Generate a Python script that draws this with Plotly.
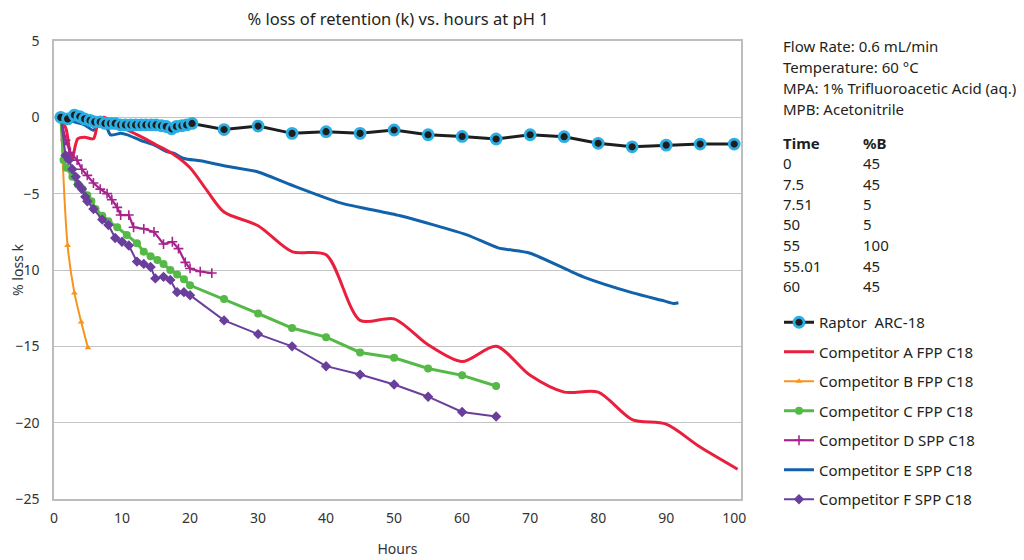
import plotly.graph_objects as go

# ---------------- data ----------------
raptor_x = [1, 2, 3, 3.8, 4.5, 5.3, 6, 6.8, 7.5, 8.3, 9, 9.8, 10.5, 11.3, 12, 12.8, 13.5, 14.3,
            15, 15.8, 16.5, 17.3, 18, 18.8, 19.5, 20.3, 25, 30, 35, 40, 45, 50, 55, 60, 65, 70,
            75, 80, 85, 90, 95, 100]
raptor_y = [0, -0.1, 0.15, 0.05, -0.1, -0.2, -0.3, -0.3, -0.4, -0.4, -0.4, -0.5, -0.5, -0.5,
            -0.5, -0.5, -0.5, -0.5, -0.5, -0.55, -0.6, -0.75, -0.6, -0.55, -0.5, -0.4, -0.8,
            -0.57, -1.05, -0.94, -1.05, -0.83, -1.14, -1.25, -1.42, -1.14, -1.27, -1.7, -1.93,
            -1.82, -1.75, -1.75]

compA_x = [1, 1.8, 2.6, 3.5, 4.5, 5.8, 6.4, 7.3, 8.8, 10.2, 12.5, 15, 17.5, 20, 22.5, 25, 30,
           35, 40, 45, 50, 55, 60, 65, 70, 75, 80, 85, 90, 95, 100.5]
compA_y = [0, -0.8, -2.8, -1.4, -1.3, -1.4, -0.5, 0, -0.4, -0.7, -1.2, -1.8, -2.4, -3.3, -4.8,
           -6.2, -7.1, -8.8, -9.0, -13.3, -13.2, -14.9, -16.0, -15.0, -16.9, -18.0, -18.0,
           -19.8, -20.1, -21.6, -23.05]

compB_x = [1, 2, 3, 4, 5]
compB_y = [0, -8.4, -11.5, -13.4, -15.1]

compC_x = [1, 1.4, 1.8, 2.7, 3.5, 4.2, 4.9, 5.5, 6.1, 7.1, 8, 9.3, 10.7, 12.2, 13.2, 14.2, 15.2,
           16.1, 17.1, 18.1, 19.1, 20, 25, 30, 35, 40, 45, 50, 55, 60, 65]
compC_y = [0, -2.8, -3.3, -3.9, -4.4, -4.7, -5.1, -5.5, -6.0, -6.45, -6.8, -7.2, -7.7, -8.25,
           -8.8, -9.1, -9.35, -9.6, -10.0, -10.3, -10.6, -11.0, -11.9, -12.85, -13.8, -14.4,
           -15.4, -15.75, -16.45, -16.9, -17.6]

compD_x = [1, 1.7, 2.4, 3.4, 4.1, 4.9, 5.8, 6.8, 7.8, 8.5, 9.3, 9.8, 11, 11.7, 13.2, 14.7,
           16.1, 17.4, 18.3, 19.3, 20, 21.5, 23.2]
compD_y = [0, -1.5, -2.3, -2.8, -3.4, -3.8, -4.3, -4.7, -5.0, -5.4, -5.9, -6.4, -6.4, -7.2,
           -7.3, -7.5, -8.3, -8.15, -8.6, -9.5, -9.9, -10.1, -10.2]

compE_x = [1, 2, 3, 4.5, 5.8, 6.8, 7.6, 8.3, 9.8, 10.8, 12.7, 14.7, 16.6, 17.6, 19.1, 21.5,
           25.4, 29.8, 34.7, 42.1, 50.9, 60.7, 65.3, 70, 77.8, 85.1, 89.5, 91.2, 91.8]
compE_y = [0, -0.1, -0.3, -0.5, -0.85, -0.25, -0.5, -1.15, -1.05, -1.15, -1.5, -1.8, -2.25,
           -2.35, -2.7, -2.85, -3.2, -3.55, -4.4, -5.6, -6.45, -7.7, -8.55, -8.9, -10.45,
           -11.5, -12.0, -12.2, -12.15]

compF_x = [1, 1.7, 2.2, 2.7, 3.2, 3.6, 4.1, 4.6, 4.9, 5.8, 7.1, 8, 9, 10, 11, 12.2, 13.2, 14.2,
           14.9, 16.1, 17.1, 18.1, 19.1, 20, 25, 30, 35, 40, 45, 50, 55, 60, 65]
compF_y = [0, -2.5, -2.8, -3.4, -3.9, -4.4, -4.7, -5.2, -5.5, -6.0, -6.7, -7.05, -7.9, -8.15,
           -8.4, -9.45, -9.6, -9.8, -10.55, -10.45, -10.65, -11.45, -11.45, -11.65, -13.3,
           -14.2, -15.0, -16.3, -16.85, -17.5, -18.3, -19.3, -19.6]

series_names = ["Raptor  ARC-18", "Competitor A FPP C18", "Competitor B FPP C18",
                "Competitor C FPP C18", "Competitor D SPP C18", "Competitor E SPP C18",
                "Competitor F SPP C18"]

x_ticks = [0, 10, 20, 30, 40, 50, 60, 70, 80, 90, 100]
y_ticks = [5, 0, -5, -10, -15, -20, -25]

info_lines = ["Flow Rate: 0.6 mL/min", "Temperature: 60 °C",
              "MPA: 1% Trifluoroacetic Acid (aq.)", "MPB: Acetonitrile"]
table_time = ["0", "7.5", "7.51", "50", "55", "55.01", "60"]
table_b = ["45", "45", "5", "5", "100", "45", "45"]

# ---------------- figure ----------------
FONT = "Noto Sans"
TXT = "#333333"
DARK = "#231f20"
W, H = 1024, 560
OFF = 8  # page body margin: the figure is drawn 8px right and down in the window
SL, SR, ST, SB = 54, 741, 41, 499
L, R, T, B = SL - OFF, SR - OFF, ST - OFF, SB - OFF


def px(xs):
    return (xs - OFF - L) / (R - L)


def py(ys):
    return (B - (ys - OFF)) / (B - T)


fig = go.Figure()

fig.add_trace(go.Scatter(x=compE_x, y=compE_y, name=series_names[5], mode="lines",
                         line=dict(color="#1262ab", width=3, shape="spline", smoothing=0.6),
                         legendrank=6, legendgroup="e"))
fig.add_trace(go.Scatter(x=compA_x, y=compA_y, name=series_names[1], mode="lines",
                         line=dict(color="#ea1f3d", width=3, shape="spline", smoothing=0.8),
                         legendrank=2, legendgroup="a"))
fig.add_trace(go.Scatter(x=compB_x, y=compB_y, name=series_names[2], mode="lines+markers",
                         line=dict(color="#f7941d", width=2, shape="spline", smoothing=0.8),
                         marker=dict(symbol="triangle-up", size=6, color="#f7941d"),
                         legendrank=3, legendgroup="b"))
fig.add_trace(go.Scatter(x=compD_x, y=compD_y, name=series_names[4], mode="lines+markers",
                         line=dict(color="#a8228f", width=2.2),
                         marker=dict(symbol="cross-thin", size=7,
                                     line=dict(color="#a8228f", width=1.6)),
                         legendrank=5, legendgroup="d"))
fig.add_trace(go.Scatter(x=compC_x, y=compC_y, name=series_names[3], mode="lines+markers",
                         line=dict(color="#55b947", width=3),
                         marker=dict(symbol="circle", size=8, color="#55b947"),
                         legendrank=4, legendgroup="c"))
fig.add_trace(go.Scatter(x=compF_x, y=compF_y, name=series_names[6], mode="lines+markers",
                         line=dict(color="#6a3f9c", width=2),
                         marker=dict(symbol="diamond", size=8, color="#6a3f9c"),
                         legendrank=7, legendgroup="f"))
fig.add_trace(go.Scatter(x=raptor_x, y=raptor_y, name=series_names[0], mode="lines+markers",
                         line=dict(color="#1e1e1e", width=3),
                         marker=dict(symbol="circle", size=10, color="#1e1e1e",
                                     line=dict(color="#2aaee4", width=2.8)),
                         legendrank=1, legendgroup="r"))

annotations = []
AF = dict(family=FONT, size=15, color=DARK)
for i, t in enumerate(info_lines):
    annotations.append(dict(text=t, x=px(781), y=py(46 + i * 21), xref="paper", yref="paper",
                            xanchor="left", yanchor="middle", showarrow=False, font=AF))
annotations.append(dict(text="<b>Time</b>", x=px(781), y=py(143), xref="paper", yref="paper",
                        xanchor="left", yanchor="middle", showarrow=False, font=AF))
annotations.append(dict(text="<b>%B</b>", x=px(861), y=py(143), xref="paper", yref="paper",
                        xanchor="left", yanchor="middle", showarrow=False, font=AF))
for i, (a, b) in enumerate(zip(table_time, table_b)):
    yy = py(163 + i * 20.5)
    annotations.append(dict(text=a, x=px(781), y=yy, xref="paper", yref="paper",
                            xanchor="left", yanchor="middle", showarrow=False, font=AF))
    annotations.append(dict(text=b, x=px(861), y=yy, xref="paper", yref="paper",
                            xanchor="left", yanchor="middle", showarrow=False, font=AF))

fig.update_layout(
    width=W, height=H,
    margin=dict(l=L, r=W - R, t=T, b=H - B, autoexpand=False),
    paper_bgcolor="white", plot_bgcolor="white",
    font=dict(family=FONT, size=14, color=TXT),
    title=dict(text="% loss of retention (k) vs. hours at pH 1", xref="paper", x=px(398),
               xanchor="center", y=1 - 11 / H, yanchor="middle",
               font=dict(family=FONT, size=16.5, color=DARK)),
    xaxis=dict(range=[0, 101], tickvals=x_ticks, showgrid=False, zeroline=False,
               showline=True, linecolor="#bdbdbd", linewidth=1.5, mirror=True,
               ticks="", ticklabelstandoff=5, tickfont=dict(size=14, color=TXT),
               automargin=False,
               title=dict(text="Hours", font=dict(size=14, color=TXT), standoff=19)),
    yaxis=dict(range=[-25, 5], tickvals=y_ticks, showgrid=True, gridcolor="#c4c4c4",
               gridwidth=1.2, zeroline=False, showline=True, linecolor="#bdbdbd",
               linewidth=1.5, mirror=True, ticks="", ticklabelstandoff=10,
               tickfont=dict(size=14, color=TXT), automargin=False,
               title=dict(text="% loss k", font=dict(size=14, color=TXT), standoff=16)),
    legend=dict(x=px(779), y=py(306), xanchor="left", yanchor="top",
                font=dict(family=FONT, size=15, color=DARK), traceorder="grouped",
                tracegroupgap=7, bgcolor="rgba(0,0,0,0)"),
    annotations=annotations,
    showlegend=True,
)

fig.write_html("out.html")
